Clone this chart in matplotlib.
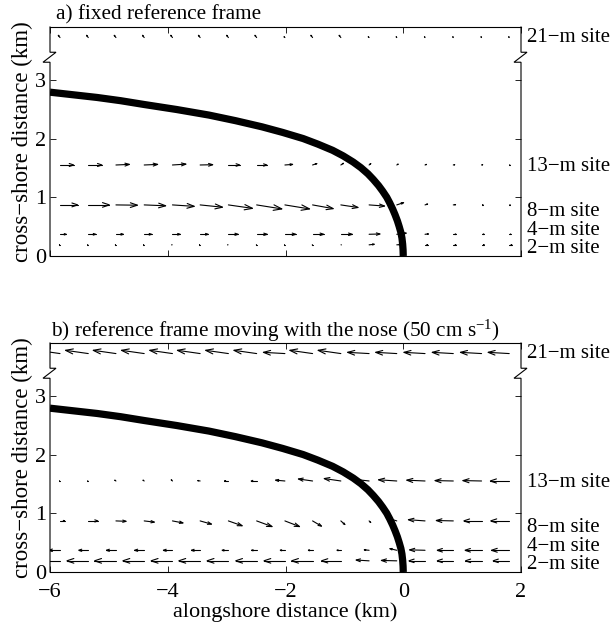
import numpy as np
import matplotlib.pyplot as plt
from matplotlib.collections import LineCollection
from matplotlib.transforms import blended_transform_factory

plt.rcParams.update({
    'font.family': ['Liberation Serif', 'DejaVu Serif'],
    'font.size': 15.3,
    'mathtext.fontset': 'custom',
    'mathtext.rm': 'Liberation Serif',
    'mathtext.it': 'Liberation Serif:italic',
    'axes.linewidth': 0.8,
})

# alongshore sample positions (km) shared by every site
x_pos = [-5.83, -5.35, -4.88, -4.40, -3.92, -3.45, -2.97, -2.49, -2.01,
         -1.54, -1.06, -0.58, -0.11, 0.37, 0.85, 1.33, 1.80]

# mooring sites and their cross-shore positions (km)
sites = ['21', '13', '8', '4', '2']
site_y = [3.72, 1.55, 0.87, 0.37, 0.19]

# velocities in the fixed frame (cm/s)
u21 = [-6, -6, -6, -6, -6, -6, -6, -6, -3, -6, -6, -3, -2, -2, -2, -2, -2]
v21 = [8, 8, 8, 8, 8, 8, 8, 8, 3, 8, 8, 3, 3, 3, 3, 3, 3]
u13 = [48, 48, 47, 47, 47, 44, 40, 36, 27, 15, 9, 6, 5, 5, 5, 4, 3]
v13 = [0, 0, 2, 2, 3, 1, 0, 0, 2, 5, 6, 5, 3, 2, 1, 1, 0]
u8 = [62, 74, 75, 75, 76, 78, 84, 88, 86, 72, 60, 54, 24, 9, 8, 6, 4]
v8 = [0, 0, -1, -3, -5, -8, -12, -14, -14, -13, -9, -4, 8, 3, 1, 0, 0]
u4 = [22, 26, 26, 26, 27, 28, 34, 37, 38, 39, 40, 38, 33, 12, 10, 9, 6]
v4 = [0, 0, 0, 0, 0, 0, 0, 0, 0, 0, 0, 1, 4, 1, 0, 0, 0]
u2 = [-3, -3, -3, -3, -3, -3, -3, -2, -2, -2, 2, 18, 12, 10, 10, 10, 10]
v2 = [0, 0, 0, 0, 0, 0, 0, 0, 0, 0, 0, 2, 1, 0, 0, 0, 0]

u_all = [u21, u13, u8, u4, u2]
v_all = [v21, v13, v8, v4, v2]

# speed of the nose (cm/s)
nose_speed = 50

# outline of the nose of the current (km)
nose_x = [-6.0, -5.6, -5.2, -4.8, -4.4, -3.85, -3.3, -2.85, -2.4, -2.05,
          -1.7, -1.45, -1.2, -1.02, -0.85, -0.72, -0.6, -0.51, -0.42, -0.35,
          -0.28, -0.23, -0.18, -0.14, -0.10, -0.07, -0.04, -0.022, -0.01,
          -0.003, 0.0]
nose_y = [2.79, 2.745, 2.70, 2.645, 2.58, 2.495, 2.40, 2.305, 2.20, 2.105,
          2.00, 1.905, 1.80, 1.705, 1.60, 1.505, 1.40, 1.305, 1.20, 1.105,
          1.00, 0.905, 0.80, 0.705, 0.60, 0.505, 0.40, 0.305, 0.20,
          0.10, 0.0]

label_y = [3.72, 1.52, 0.76, 0.44, 0.13]

W, H = 613, 626
fig = plt.figure(figsize=(W / 100, H / 100), dpi=100)
ax_a = fig.add_axes([50 / W, 1 - 256 / H, 471 / W, 229 / H])
ax_b = fig.add_axes([50 / W, 1 - 572 / H, 471 / W, 229 / H])


def arrows(ax, x, y, u, v, k, alpha=0.33, beta=0.33):
    # quiver-style arrows with open heads
    segs = []
    for xi, ui, vi in zip(x, u, v):
        du, dv = ui * k, vi * k
        tx, ty = xi + du, y + dv
        segs.append([(xi, y), (tx, ty)])
        segs.append([(tx - alpha * (du + beta * dv), ty - alpha * (dv - beta * du)),
                     (tx, ty),
                     (tx - alpha * (du - beta * dv), ty - alpha * (dv + beta * du))])
    ax.add_collection(LineCollection(segs, colors='k', linewidths=0.8,
                                     capstyle='round', joinstyle='miter'))


def frame(ax):
    ax.set_xlim(-6, 2)
    ax.set_ylim(0, 3.9)
    ax.set_xticks([-6, -4, -2, 0, 2])
    ax.set_yticks([0, 1, 2, 3])
    ax.tick_params(direction='in', top=True, right=True, length=4,
                   width=0.6, labelsize=16)
    ax.tick_params(axis='x', pad=8)
    ax.tick_params(axis='y', pad=3)
    ax.spines['left'].set_visible(False)
    ax.spines['right'].set_visible(False)
    tr = blended_transform_factory(ax.transAxes, ax.transData)
    d = 1 / 471
    for x0 in (0, 1):
        ax.plot([x0, x0, x0 - 7 * d, x0 + 6 * d, x0, x0],
                [0, 3.30, 3.30, 3.47, 3.47, 3.9],
                color='k', lw=0.8, transform=tr, clip_on=False,
                solid_joinstyle='miter')
    for s, ly in zip(sites, label_y):
        ax.text(1.013, ly, f'{s}\u2212m site', transform=tr,
                va='center', ha='left', fontsize=15)
    ax.set_ylabel('cross\u2212shore distance (km)', fontsize=16.5, labelpad=1)
    ax.plot(nose_x, nose_y, color='k', lw=5.2, solid_capstyle='butt',
            solid_joinstyle='round')


# fixed frame
frame(ax_a)
ax_a.set_xticklabels([])
for y, u, v in zip(site_y, u_all, v_all):
    arrows(ax_a, x_pos, y, u, v, 0.00487)
ax_a.text(0.012, 1.012, 'a) fixed reference frame', transform=ax_a.transAxes,
          ha='left', va='bottom', fontsize=15.3)

# frame moving with the nose
frame(ax_b)
for y, u, v in zip(site_y, u_all, v_all):
    arrows(ax_b, x_pos, y, np.array(u) - nose_speed, v, 0.0069)
ax_b.text(0.002, 0.995, 'b) reference frame moving with the nose (50 cm s$^{\u22121}$)',
          transform=ax_b.transAxes, ha='left', va='bottom', fontsize=15.3)
ax_b.set_xlabel('alongshore distance (km)', fontsize=16, labelpad=0)

fig.savefig('out.png', dpi=100)
